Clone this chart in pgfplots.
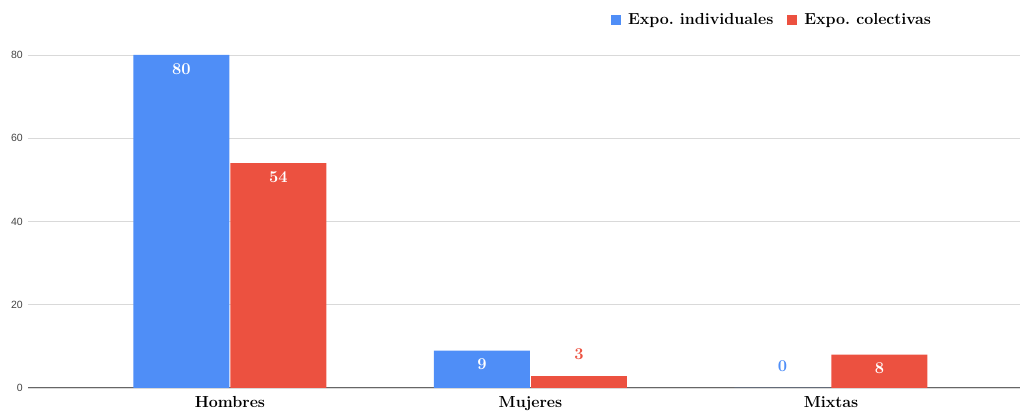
\documentclass[border=0pt]{standalone}
\usepackage{pgfplots}
\pgfplotsset{compat=1.18}
\usepackage{fontspec}
\newfontfamily\arialf{Liberation Sans}
\definecolor{gblue}{RGB}{79,142,247}
\definecolor{gred}{RGB}{236,81,64}
\definecolor{tickgray}{RGB}{68,68,68}
\pgfplotsset{
  inlab/.style={nodes near coords, every node near coord/.append style={anchor=north, inner sep=0pt, yshift=-8pt, text=white, font=\fontsize{16.5}{16.5}\selectfont\bfseries}},
  outlab/.style={nodes near coords, every node near coord/.append style={anchor=south, inner sep=0pt, yshift=16pt, text=#1, font=\fontsize{16.5}{16.5}\selectfont\bfseries}},
}
\frenchspacing
\begin{document}
\begin{tikzpicture}
\path[use as bounding box] (0,0) rectangle (1021pt,412pt);
\begin{axis}[
  at={(28pt,24pt)}, anchor=south west,
  scale only axis, width=992pt, height=333pt,
  xmin=-0.672, xmax=2.629, ymin=0, ymax=80,
  ybar, bar width=96pt,
  axis line style={draw=none},
  major tick length=0pt,
  xtick={0,1,2}, xticklabels={Hombres,Mujeres,Mixtas},
  xticklabel style={font=\fontsize{16}{16}\selectfont\bfseries, anchor=north, inner sep=0pt, yshift=-8pt},
  ytick={0,20,40,60,80},
  yticklabel style={font=\arialf\fontsize{10.5}{10.5}\selectfont, text=tickgray, anchor=east, inner sep=0pt, xshift=-5pt},
  /pgf/number format/assume math mode=true,
  ymajorgrids, grid style={color=black!15, line width=0.8pt},
  extra y ticks={0}, extra y tick labels={},
  extra y tick style={major grid style={color=black!60, line width=1pt}},
  legend columns=2,
  legend image code/.code={\fill[#1] (0pt,-5pt) rectangle (10pt,5pt);},
  legend style={draw=none, fill=none, at={(0.5877,1.105)}, anchor=west, inner sep=0pt, outer sep=0pt,
    font=\fontsize{16}{16}\selectfont\bfseries, nodes={inner sep=0pt},
    /tikz/every odd column/.append style={column sep=7pt},
    /tikz/every even column/.append style={column sep=14pt}},
]
\addplot[fill=gblue, draw=none, bar shift=-48.5pt, inlab] coordinates {(0,80) (1,9)};
\addlegendentry{Expo. individuales}
\addplot[fill=gred, draw=none, bar shift=48.5pt, inlab] coordinates {(0,54) (2,8)};
\addlegendentry{Expo. colectivas}
\addplot[fill=gblue, draw=none, bar shift=-48.5pt, outlab=gblue, forget plot] coordinates {(2,0)};
\addplot[fill=gred, draw=none, bar shift=48.5pt, outlab=gred, forget plot] coordinates {(1,3)};
\end{axis}
\end{tikzpicture}
\end{document}
